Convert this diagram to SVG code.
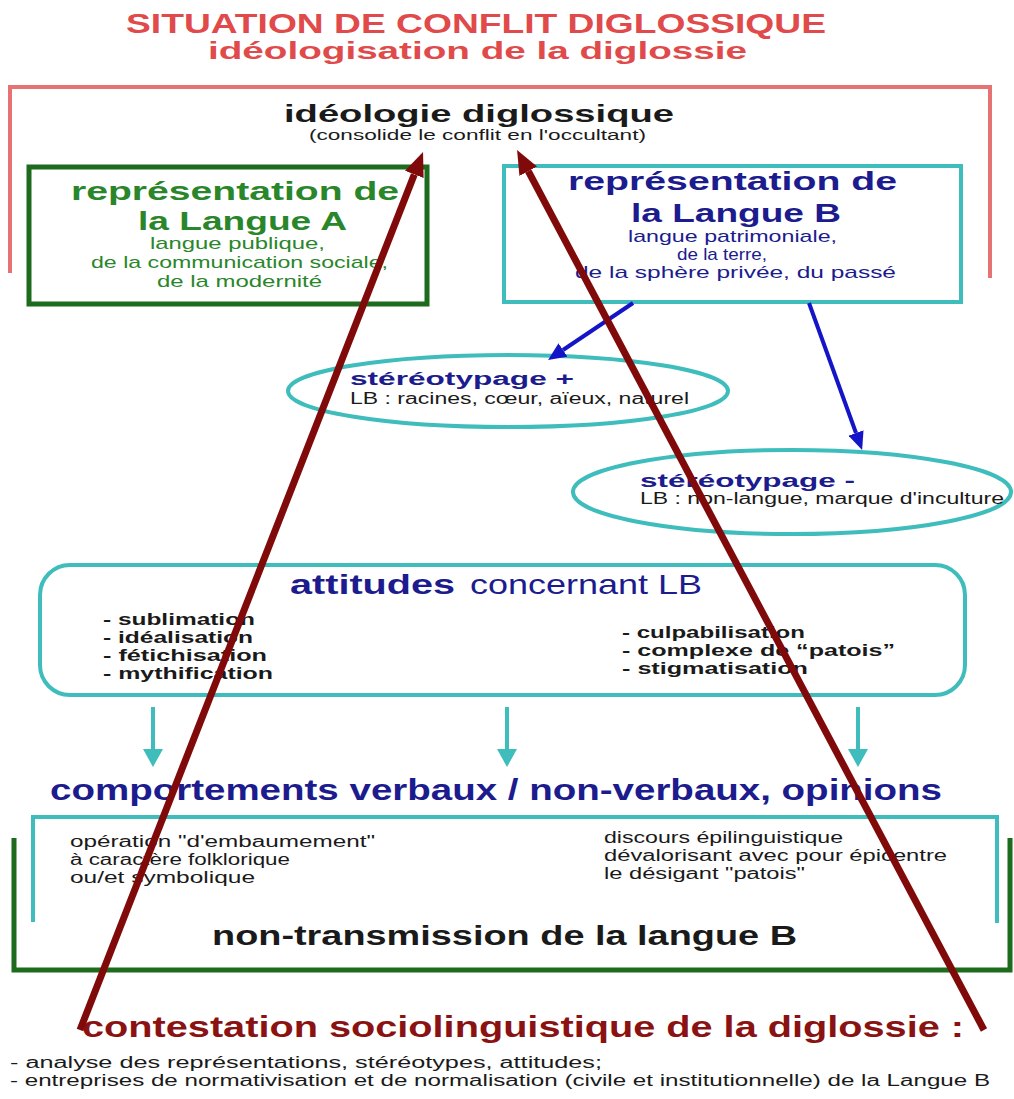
<svg xmlns="http://www.w3.org/2000/svg" width="1014" height="1099" viewBox="0 0 1014 1099">
<style>
text{font-family:"Liberation Sans",Arial,sans-serif;}
.b{font-weight:bold;}
.title{fill:#e04a4a;font-weight:bold;}
.green{fill:#2a862a;}
.navy{fill:#1c1c8e;}
.dark{fill:#1a1a1a;}
.cy{fill:none;stroke:#3fbcbc;stroke-width:4;}
.gr{fill:none;stroke:#1d6b1d;stroke-width:5;}
.blue{stroke:#1515c8;stroke-width:4;fill:none;}
.cyar{stroke:#3fbcbc;stroke-width:4;fill:none;}
.mar{stroke:#800a0a;stroke-width:7;fill:none;}
</style>
<defs>
<marker id="hb" markerUnits="userSpaceOnUse" markerWidth="18" markerHeight="16" viewBox="0 0 18 16" refX="0" refY="8" orient="auto"><path d="M0,0 L18,8 L0,16 z" fill="#1515c8"/></marker>
<marker id="hc" markerUnits="userSpaceOnUse" markerWidth="18" markerHeight="20" viewBox="0 0 18 20" refX="0" refY="10" orient="auto"><path d="M0,0 L18,10 L0,20 z" fill="#3fbcbc"/></marker>
<marker id="hm" markerUnits="userSpaceOnUse" markerWidth="24" markerHeight="20" viewBox="0 0 24 20" refX="0" refY="10" orient="auto"><path d="M0,0 L24,10 L0,20 z" fill="#800a0a"/></marker>
</defs>
<rect width="1014" height="1099" fill="#ffffff"/>

<g id="title">
<text class="title" x="126" y="33" font-size="27" textLength="700" lengthAdjust="spacingAndGlyphs">SITUATION DE CONFLIT DIGLOSSIQUE</text>
<text class="title" x="208" y="59" font-size="24" textLength="539" lengthAdjust="spacingAndGlyphs">idéologisation de la diglossie</text>
</g>

<g id="ideologie">
<path d="M10,273 V87 H990 V278" fill="none" stroke="#e57373" stroke-width="4"/>
<text class="dark b" x="284" y="122" font-size="24" textLength="390" lengthAdjust="spacingAndGlyphs">idéologie diglossique</text>
<text class="dark" x="309" y="140" font-size="14" textLength="337" lengthAdjust="spacingAndGlyphs">(consolide le conflit en l'occultant)</text>
</g>

<g id="langueA">
<rect x="29" y="167" width="398" height="137" class="gr" stroke-width="4"/>
<text class="green b" x="71" y="200" font-size="26" textLength="328" lengthAdjust="spacingAndGlyphs">représentation de</text>
<text class="green b" x="138" y="230" font-size="26" textLength="209" lengthAdjust="spacingAndGlyphs">la Langue A</text>
<text class="green" x="150" y="249" font-size="17" textLength="175" lengthAdjust="spacingAndGlyphs">langue publique,</text>
<text class="green" x="91" y="268" font-size="17" textLength="297" lengthAdjust="spacingAndGlyphs">de la communication sociale,</text>
<text class="green" x="157" y="287" font-size="17" textLength="165" lengthAdjust="spacingAndGlyphs">de la modernité</text>
</g>

<g id="langueB">
<rect x="504" y="166" width="457" height="136" class="cy"/>
<text class="navy b" x="568" y="190" font-size="26" textLength="329" lengthAdjust="spacingAndGlyphs">représentation de</text>
<text class="navy b" x="631" y="222" font-size="26" textLength="210" lengthAdjust="spacingAndGlyphs">la Langue B</text>
<text class="navy" x="628" y="242" font-size="17" textLength="209" lengthAdjust="spacingAndGlyphs">langue patrimoniale,</text>
<text class="navy" x="677" y="260" font-size="17" textLength="90" lengthAdjust="spacingAndGlyphs">de la terre,</text>
<text class="navy" x="575" y="278" font-size="17" textLength="321" lengthAdjust="spacingAndGlyphs">de la sphère privée, du passé</text>
</g>

<g id="stereoPlus">
<ellipse cx="508" cy="391" rx="220" ry="36" class="cy"/>
<text class="navy b" x="350" y="385" font-size="18" textLength="224" lengthAdjust="spacingAndGlyphs">stéréotypage +</text>
<text class="dark" x="350" y="404" font-size="16" textLength="339" lengthAdjust="spacingAndGlyphs">LB : racines, cœur, aïeux, naturel</text>
</g>

<g id="stereoMinus">
<ellipse cx="792" cy="492" rx="219" ry="42" class="cy"/>
<text class="navy b" x="640" y="487" font-size="18" textLength="215" lengthAdjust="spacingAndGlyphs">stéréotypage -</text>
<text class="dark" x="640" y="504" font-size="16" textLength="364" lengthAdjust="spacingAndGlyphs">LB : non-langue, marque d'inculture</text>
</g>

<g id="attitudes">
<rect x="40" y="565" width="925" height="130" rx="30" ry="30" class="cy"/>
<text class="navy b" x="290" y="594" font-size="28" textLength="165" lengthAdjust="spacingAndGlyphs">attitudes</text>
<text class="navy" x="470" y="594" font-size="28" textLength="232" lengthAdjust="spacingAndGlyphs">concernant LB</text>
<text class="dark b" x="103" y="625" font-size="16" textLength="152" lengthAdjust="spacingAndGlyphs">- sublimation</text>
<text class="dark b" x="103" y="643" font-size="16" textLength="150" lengthAdjust="spacingAndGlyphs">- idéalisation</text>
<text class="dark b" x="103" y="661" font-size="16" textLength="164" lengthAdjust="spacingAndGlyphs">- fétichisation</text>
<text class="dark b" x="103" y="679" font-size="16" textLength="170" lengthAdjust="spacingAndGlyphs">- mythification</text>
<text class="dark b" x="622" y="638" font-size="16" textLength="183" lengthAdjust="spacingAndGlyphs">- culpabilisation</text>
<text class="dark b" x="622" y="656" font-size="16" textLength="273" lengthAdjust="spacingAndGlyphs">- complexe de “patois”</text>
<text class="dark b" x="622" y="674" font-size="16" textLength="186" lengthAdjust="spacingAndGlyphs">- stigmatisation</text>
</g>

<g id="comportements">
<text class="navy b" x="50" y="800" font-size="30" textLength="892" lengthAdjust="spacingAndGlyphs">comportements verbaux / non-verbaux, opinions</text>
<path d="M33,922 V817 H997 V923" class="cy"/>
<text class="dark" x="70" y="847" font-size="16" textLength="305" lengthAdjust="spacingAndGlyphs">opération "d'embaumement"</text>
<text class="dark" x="70" y="865" font-size="16" textLength="220" lengthAdjust="spacingAndGlyphs">à caractère folklorique</text>
<text class="dark" x="70" y="883" font-size="16" textLength="185" lengthAdjust="spacingAndGlyphs">ou/et symbolique</text>
<text class="dark" x="604" y="843" font-size="16" textLength="239" lengthAdjust="spacingAndGlyphs">discours épilinguistique</text>
<text class="dark" x="604" y="861" font-size="16" textLength="343" lengthAdjust="spacingAndGlyphs">dévalorisant avec pour épicentre</text>
<text class="dark" x="604" y="879" font-size="16" textLength="201" lengthAdjust="spacingAndGlyphs">le désigant "patois"</text>
</g>

<g id="nonTransmission">
<path d="M14,838 V970 H1010 V838" class="gr"/>
<text class="dark b" x="212" y="945" font-size="27" textLength="585" lengthAdjust="spacingAndGlyphs">non-transmission de la langue B</text>
</g>

<g id="contestation">
<text class="b" fill="#8b1212" x="82" y="1037" font-size="29" textLength="882" lengthAdjust="spacingAndGlyphs">contestation sociolinguistique de la diglossie :</text>
<text class="dark" x="10" y="1068" font-size="16" textLength="592" lengthAdjust="spacingAndGlyphs">- analyse des représentations, stéréotypes, attitudes;</text>
<text class="dark" x="10" y="1086" font-size="16" textLength="980" lengthAdjust="spacingAndGlyphs">- entreprises de normativisation et de normalisation (civile et institutionnelle) de la Langue B</text>
</g>

<g id="connectors">
<line x1="633" y1="303" x2="563" y2="350" class="blue" marker-end="url(#hb)"/>
<line x1="809" y1="303" x2="856" y2="433" class="blue" marker-end="url(#hb)"/>
<line x1="153" y1="707" x2="153" y2="749" class="cyar" marker-end="url(#hc)"/>
<line x1="507" y1="707" x2="507" y2="749" class="cyar" marker-end="url(#hc)"/>
<line x1="858" y1="707" x2="858" y2="749" class="cyar" marker-end="url(#hc)"/>
<line x1="80" y1="1030" x2="414.3" y2="174.4" class="mar" marker-end="url(#hm)"/>
<line x1="984" y1="1030" x2="528.3" y2="171.2" class="mar" marker-end="url(#hm)"/>
</g>
</svg>
